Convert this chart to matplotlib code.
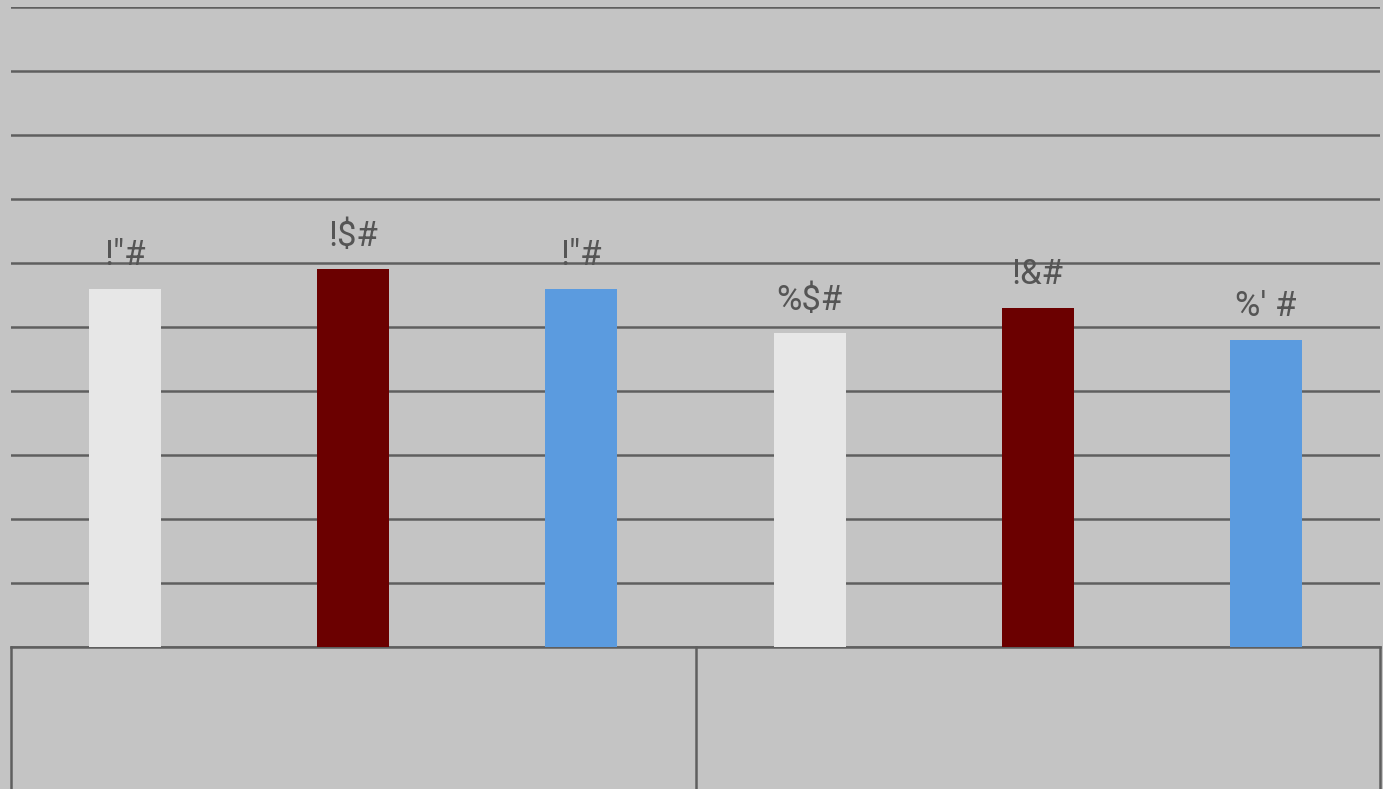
import matplotlib
matplotlib.use("Agg")
import matplotlib.pyplot as plt
from matplotlib.lines import Line2D

# values (percent) and the labels as they appear on the chart
values = [56, 59, 56, 49, 53, 48]
value_labels = ['!"#', '!$#', '!"#', '%$#', '!&#', "%' #"]
bar_colors = ["#e7e7e7", "#6b0000", "#5b9bdf", "#e7e7e7", "#6b0000", "#5b9bdf"]
group_splits = [2.5]

bg = "#c4c4c4"
line_col = "#5f5f5f"

fig = plt.figure(figsize=(13.83, 7.89), dpi=100)
fig.patch.set_facecolor(bg)
ax = fig.add_axes([11 / 1383, (789 - 647) / 789, 1369 / 1383, 640 / 789])
ax.set_facecolor(bg)

x = list(range(len(values)))
ax.bar(x, values, width=0.315, color=bar_colors, zorder=3)

for xi, v, lab in zip(x, values, value_labels):
    ax.text(xi, v + 2.6, lab, ha="center", va="bottom", fontsize=25,
            color="#555555", family=["Roboto", "DejaVu Sans"],
            zorder=4)

ax.set_xlim(-0.5, len(values) - 0.5)
ax.set_ylim(0, 100)
ax.set_yticks(range(0, 101, 10))
ax.yaxis.grid(True, color=line_col, linewidth=1.8, zorder=1)
ax.set_axisbelow(True)
ax.tick_params(left=False, bottom=False, labelleft=False, labelbottom=False)
for s in ["top", "right", "left"]:
    ax.spines[s].set_visible(False)
ax.spines["bottom"].set_color(line_col)
ax.spines["bottom"].set_linewidth(1.8)

# category axis dividers running down below the plot
trans = ax.get_xaxis_transform()
for xv in [-0.5] + group_splits + [len(values) - 0.5]:
    ax.add_line(Line2D([xv, xv], [0, -0.3], transform=trans, color=line_col,
                       linewidth=1.8, clip_on=False))

fig.savefig("out.png", dpi=100, facecolor=bg)
